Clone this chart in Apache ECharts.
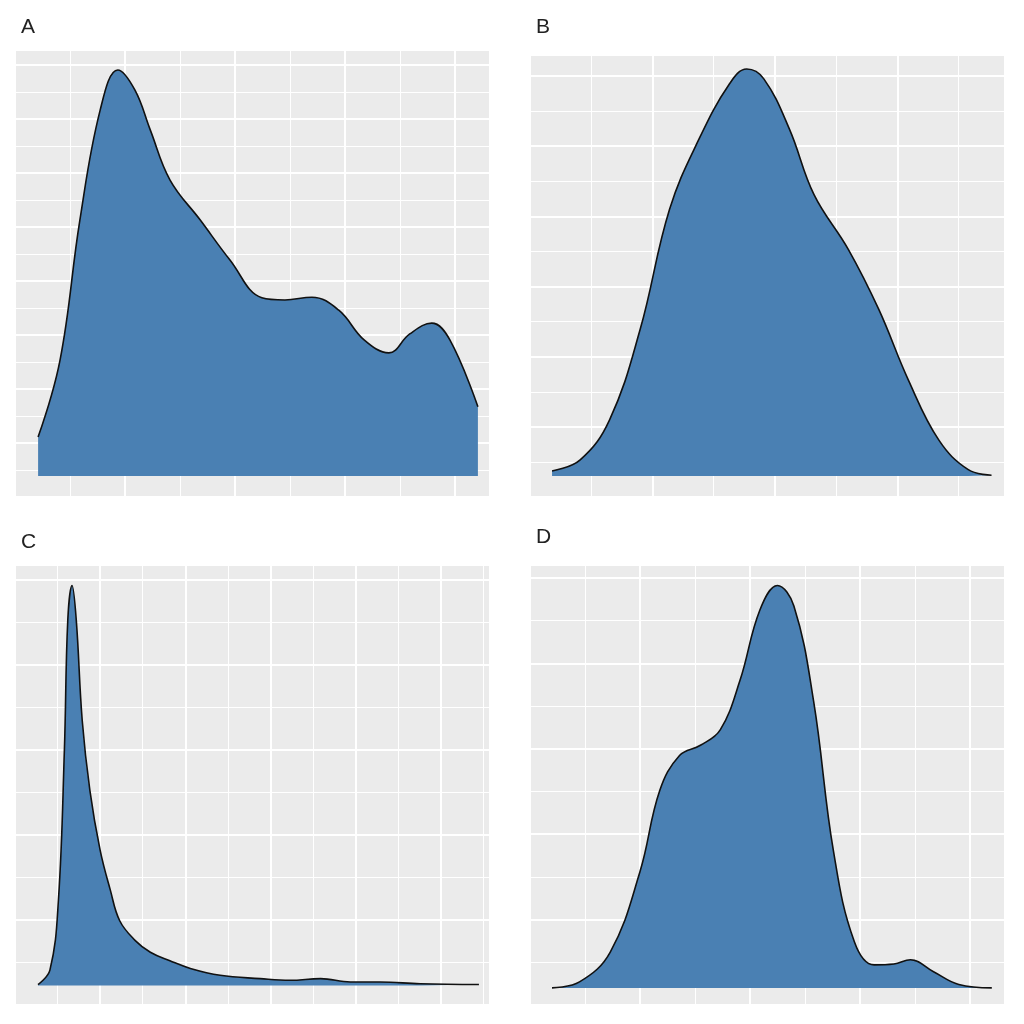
<!DOCTYPE html><html><head><meta charset="utf-8"><script src="https://cdn.jsdelivr.net/npm/echarts@6/dist/echarts.min.js"></script>
<style>html,body{margin:0;background:#fff}#c{width:1024px;height:1024px}</style></head><body><div id="c"></div><script>
// density estimates (x in axis units, y in density units)
const aX=[0,0.4,0.76,1.13,1.45,1.76,2.04,2.4,2.95,3.49,4.07,4.49,4.98,5.47,5.93,6.38,6.76,7.16,7.49,8];
const aY=[0.72,2.15,4.74,6.78,7.52,7.15,6.41,5.48,4.74,4.0,3.3,3.26,3.31,3.07,2.52,2.28,2.63,2.83,2.52,1.28];
const bX=[0,0.23,0.47,0.72,0.96,1.2,1.45,1.59,1.73,1.94,2.14,2.42,2.67,2.91,3.16,3.4,3.59];
const bY=[0.07,0.23,0.8,2.09,3.8,4.8,5.59,5.8,5.66,4.94,4.01,3.23,2.37,1.37,0.51,0.09,0.01];
const cX=[0,0.14,0.24,0.31,0.35,0.4,0.45,0.52,0.61,0.73,0.85,0.96,1.14,1.32,1.55,1.79,2.14,2.61,2.96,3.32,3.67,4.02,4.49,5.18];
const cY=[0.01,0.18,1.0,2.76,4.29,4.7,4.29,3.11,2.29,1.59,1.12,0.76,0.53,0.39,0.29,0.2,0.12,0.08,0.06,0.08,0.04,0.04,0.02,0.01];
const dX=[0,0.25,0.53,0.8,0.98,1.16,1.35,1.53,1.71,1.89,2.05,2.2,2.38,2.56,2.75,2.93,3.11,3.26,3.47,3.7,4];
const dY=[0,0.07,0.42,1.36,2.31,2.72,2.84,3.02,3.6,4.42,4.71,4.47,3.35,1.6,0.54,0.27,0.28,0.33,0.19,0.04,0];
const panels=[
 {t:'A',x:aX,y:aY,g:{left:15,top:50,width:475,height:447},xr:[-0.42,8.22],xi:2,yr:[-0.39,7.89],yi:1},
 {t:'B',x:bX,y:bY,g:{left:530,top:55,width:475,height:442},xr:[-0.18,3.7],xi:1,yr:[-0.3,6.0],yi:1},
 {t:'C',x:cX,y:cY,g:{left:15,top:565,width:475,height:440},xr:[-0.27,5.31],xi:1,yr:[-0.23,4.94],yi:1},
 {t:'D',x:dX,y:dY,g:{left:530,top:565,width:475,height:440},xr:[-0.2,4.12],xi:1,yr:[-0.2,4.95],yi:1}
];
const opt={animation:false,grid:[],xAxis:[],yAxis:[],series:[],title:[]};
panels.forEach((p,i)=>{
 opt.grid.push(Object.assign({show:true,backgroundColor:'#ebebeb',borderWidth:0},p.g));
 opt.title.push({text:p.t,left:p.g.left+1,top:p.g.top-(i%2?43:38),textStyle:{fontFamily:'Liberation Sans',fontWeight:'normal',fontSize:21,color:'#222'}});
 const ax=(r,iv)=>({gridIndex:i,type:'value',min:r[0],max:r[1],interval:iv,axisLine:{show:false},axisTick:{show:false},axisLabel:{show:false},
   splitLine:{show:true,lineStyle:{color:'#fff',width:2}},minorTick:{show:false,splitNumber:2},minorSplitLine:{show:true,lineStyle:{color:'#fff',width:1}}});
 const xa=ax(p.xr,p.xi);const ya=ax(p.yr,p.yi);
 // ticks count from min: shift via custom axis using min multiple handled by splitLine on values
 xa.min=p.xr[0];ya.min=p.yr[0];
 opt.xAxis.push(xa);opt.yAxis.push(ya);
 opt.series.push({type:'line',xAxisIndex:i,yAxisIndex:i,smooth:0.4,symbol:'none',data:p.x.map((v,k)=>[v,p.y[k]]),
   lineStyle:{color:'#111',width:1.6},areaStyle:{color:'#4a80b3',opacity:1}});
});
echarts.init(document.getElementById('c')).setOption(opt);
</script></body></html>
